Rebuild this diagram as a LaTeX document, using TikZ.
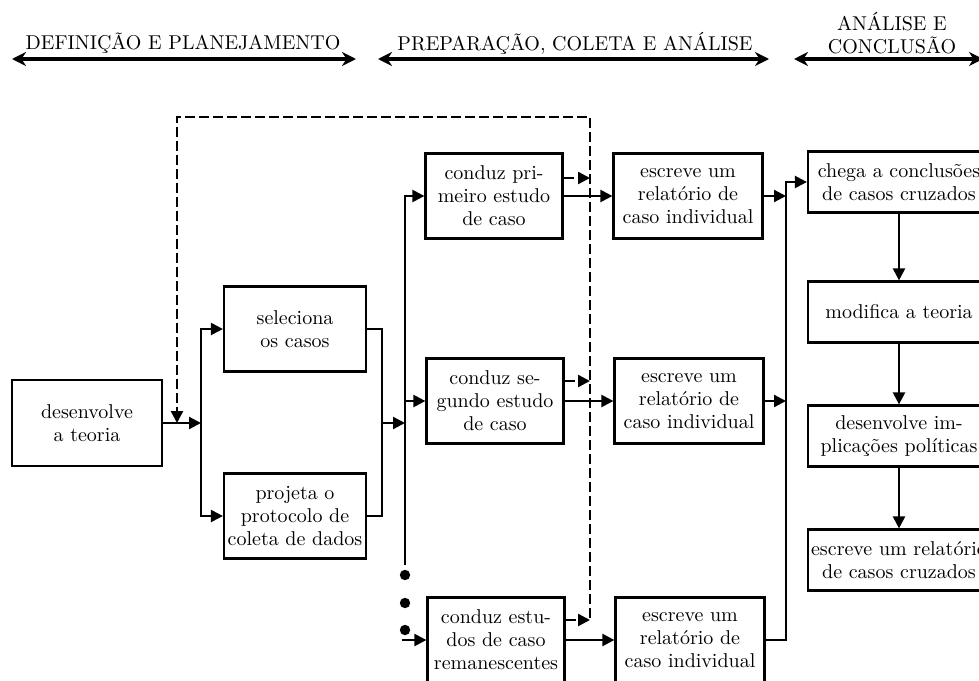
\documentclass[tikz,border=0pt]{standalone}
\usepackage{amsmath}
\usetikzlibrary{arrows.meta}

\begin{document}
\begin{tikzpicture}[x=0.5pt, y=-0.5pt, >={Triangle[length=6pt, width=6pt]},
  font=\fontsize{10}{11.5}\selectfont,
  box/.style={draw, line width=1.1pt, align=center, inner sep=1pt},
  flow/.style={->, line width=1.1pt},
  dashflow/.style={->, line width=1.2pt, dash pattern=on 5pt off 2pt},
  span/.style={{Stealth[length=7pt, width=7pt]}-{Stealth[length=7pt, width=7pt]}, line width=1.6pt},
  dot/.style={circle, fill=black, inner sep=0pt, minimum size=5.2pt}]
  \useasboundingbox (0,0) rectangle (979,680);
  \clip (0,0) rectangle (979,680);
  % ---------------- phases on top ----------------
  \node (hdef) at (183,43) {DEFINIÇÃO E PLANEJAMENTO};
  \node (hprep) at (575,43) {PREPARAÇÃO, COLETA E ANÁLISE};
  \node[align=center] (hconc) at (892,33) {ANÁLISE E\\CONCLUSÃO};
  \coordinate (hdefL) at (12,59);  \coordinate (hdefR) at (356,59);
  \coordinate (hprepL) at (378,59); \coordinate (hprepR) at (769,59);
  \coordinate (hconcL) at (794,59); \coordinate (hconcR) at (983,59);
  \draw[span] (hdefL) -- (hdefR);
  \draw[span] (hprepL) -- (hprepR);
  \draw[span] (hconcL) -- (hconcR);
  % ---------------- definition and planning ----------------
  \node[box, minimum width=75pt, minimum height=43pt] (teoria) at (87,423) {desenvolve\\a teoria};
  \node[box, minimum width=71pt, minimum height=42.5pt] (seleciona) at (295,329) {seleciona\\os casos};
  \node[box, minimum width=71pt, minimum height=42.5pt] (projeta) at (295,516) {projeta o\\protocolo de\\coleta de dados};
  \coordinate (bus1) at (201,423);
  \coordinate (join1) at (382,423);
  \draw[flow] (teoria.east) -- (bus1);
  \draw[flow] (bus1) |- (seleciona.west);
  \draw[flow] (bus1) |- (projeta.west);
  \draw[line width=1.1pt] (seleciona.east) -| (join1) |- (projeta.east);
  % ---------------- case studies ----------------
  \node[box, minimum width=68.5pt, minimum height=42.5pt] (primeiro) at (494,196) {conduz pri-\\meiro estudo\\de caso};
  \node[box, minimum width=68.5pt, minimum height=42.5pt] (segundo) at (495,401) {conduz se-\\gundo estudo\\de caso};
  \node[box, minimum width=68.5pt, minimum height=42.5pt] (remanesc) at (496,640) {conduz estu-\\dos de caso\\remanescentes};
  \coordinate (bus2) at (405,423);
  \coordinate (bus2end) at (405,565);
  \draw[flow] (join1) -- (bus2);
  \draw[flow] (bus2) |- (primeiro.west);
  \draw[flow] (bus2) |- (segundo.west);
  \draw[line width=1.1pt] (bus2) -- (bus2end);
  \foreach \i/\y in {1/575, 2/603, 3/630}
    \node[dot] (dot\i) at (405,\y) {};
  \draw[flow] ([xshift=-12pt]remanesc.west) -- (remanesc.west);
  % ---------------- individual reports ----------------
  \node[box, minimum width=74.5pt, minimum height=42.5pt] (escreve1) at (688,196) {escreve um\\relatório de\\caso individual};
  \node[box, minimum width=74.5pt, minimum height=42.5pt] (escreve2) at (689,401) {escreve um\\relatório de\\caso individual};
  \node[box, minimum width=74.5pt, minimum height=42.5pt] (escreve3) at (690,640) {escreve um\\relatório de\\caso individual};
  \draw[flow] (primeiro.east) -- (escreve1.west);
  \draw[flow] (segundo.east) -- (escreve2.west);
  \draw[flow] (remanesc.east) -- (escreve3.west);
  % feedback loop (dashed)
  \coordinate (dtopR) at (590,117);
  \coordinate (dtopL) at (177,117);
  \coordinate (dend) at (590,618);
  \draw[dashflow] ([yshift=9pt]primeiro.east) -- ([yshift=9pt]primeiro.east -| dtopR);
  \draw[dashflow] ([yshift=10pt]segundo.east) -- ([yshift=10pt]segundo.east -| dtopR);
  \draw[dashflow] ([yshift=10pt]remanesc.east) -- ([yshift=10pt]remanesc.east -| dtopR);
  \draw[dashflow] (dend) -- (dtopR) -- (dtopL) -- (teoria.east -| dtopL);
  % ---------------- analysis and conclusion ----------------
  \node[box, minimum width=91pt, minimum height=30.5pt] (chega) at (899,182) {chega a conclusões\\de casos cruzados};
  \node[box, minimum width=91pt, minimum height=30.5pt] (modifica) at (899,312) {modifica a teoria};
  \node[box, minimum width=91pt, minimum height=30.5pt] (implica) at (899,436) {desenvolve im-\\plicações políticas};
  \node[box, minimum width=91pt, minimum height=30.5pt] (cruzados) at (899,560) {escreve um relatório\\de casos cruzados};
  \coordinate (bus3) at (786,182);
  \draw[flow] (escreve1.east) -- (escreve1.east -| bus3);
  \draw[flow] (escreve2.east) -- (escreve2.east -| bus3);
  \draw[flow] (escreve3.east) -| (bus3) -- (chega.west);
  \draw[flow] (chega) -- (modifica);
  \draw[flow] (modifica) -- (implica);
  \draw[flow] (implica) -- (cruzados);
\end{tikzpicture}
\end{document}
